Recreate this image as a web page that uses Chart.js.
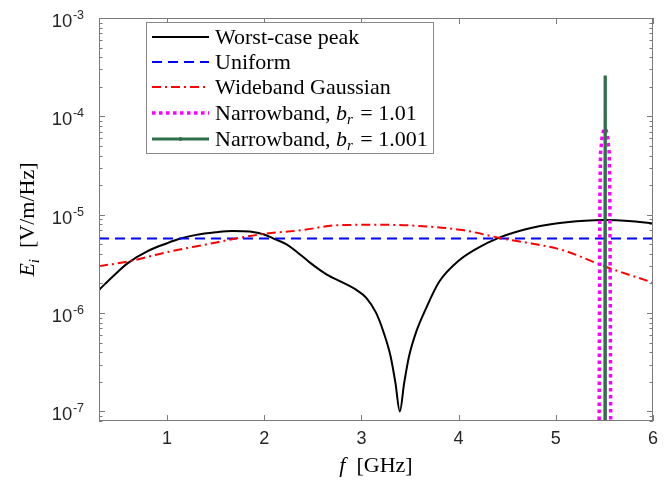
<!DOCTYPE html>
<html>
<head>
<meta charset="utf-8">
<script src="https://cdn.jsdelivr.net/npm/chart.js@4.4.0/dist/chart.umd.min.js"></script>
<style>
    body { margin: 0; background: #fff; }
</style>
</head>
<body>
<canvas id="myChart" width="672" height="487"></canvas>
<script>
// Values (f in GHz, E in V/m/Hz)
const fWorst = [0.3, 0.45, 0.6, 0.8, 1.0, 1.13, 1.3, 1.5, 1.67, 1.85, 2.0, 2.09, 2.23, 2.365, 2.47, 2.64, 2.81, 2.94, 3.05, 3.15, 3.23, 3.3, 3.35, 3.395, 3.44, 3.49, 3.56, 3.66, 3.8, 4.0, 4.2, 4.4, 4.7, 5.0, 5.3, 5.5, 5.75, 6.0];
const eWorst = [1.72e-6, 2.4e-6, 3.24e-6, 4.27e-6, 5.13e-6, 5.69e-6, 6.24e-6, 6.64e-6, 6.85e-6, 6.75e-6, 6.3e-6, 5.75e-6, 5.0e-6, 3.97e-6, 3.26e-6, 2.48e-6, 2.04e-6, 1.74e-6, 1.43e-6, 1.01e-6, 6.3e-7, 3.64e-7, 1.95e-7, 1.0e-7, 1.95e-7, 3.64e-7, 6.3e-7, 1.09e-6, 2.08e-6, 3.4e-6, 4.6e-6, 5.75e-6, 7.15e-6, 8.15e-6, 8.7e-6, 8.82e-6, 8.65e-6, 8.15e-6];

const fUniform = [0.3, 6.0];
const eUniform = [5.73e-6, 5.73e-6];

const fWide = [0.3, 0.6, 1.0, 1.4, 1.71, 2.0, 2.4, 2.72, 3.1, 3.5, 4.04, 4.45, 4.75, 5.07, 5.52, 6.0];
const eWide = [3.0e-6, 3.35e-6, 4.16e-6, 4.98e-6, 5.73e-6, 6.4e-6, 7.0e-6, 7.78e-6, 7.9e-6, 7.78e-6, 6.98e-6, 5.73e-6, 5.1e-6, 4.37e-6, 2.94e-6, 2.04e-6];

const fNarrow1 = [5.445, 5.449, 5.454, 5.46, 5.475, 5.49, 5.505, 5.52, 5.535, 5.55, 5.556, 5.561, 5.565];
const eNarrow1 = [5e-8, 1e-6, 1.5e-5, 4.2e-5, 6e-5, 7.1e-5, 7.6e-5, 7.1e-5, 6e-5, 4.2e-5, 1.5e-5, 1e-6, 5e-8];

const fNarrow2 = [5.503, 5.505, 5.507, 5.509, 5.511];
const eNarrow2 = [5e-8, 2e-6, 2.6e-4, 2e-6, 5e-8];

const xTicks = [1, 2, 3, 4, 5, 6];
const yDecades = [1e-7, 1e-6, 1e-5, 1e-4, 1e-3];
const yExps = [-7, -6, -5, -4, -3];

const legendNames = ['Worst-case peak', 'Uniform', 'Wideband Gaussian', 'Narrowband, ', 'Narrowband, '];
const legendBr = [null, null, null, '1.01', '1.001'];

const axisColor = '#7a7a7a';
const serif = '"Liberation Serif", "DejaVu Serif", serif';
const sans = '"Liberation Sans", Arial, sans-serif';

function pts(xs, ys) {
    return xs.map((v, i) => ({ x: v, y: ys[i] }));
}

const datasets = [
    { label: 'Worst-case peak', data: pts(fWorst, eWorst), borderColor: '#000000', borderWidth: 2, cubicInterpolationMode: 'monotone', order: 5 },
    { label: 'Uniform', data: pts(fUniform, eUniform), borderColor: '#0000ff', borderWidth: 2.2, borderDash: [10, 6], order: 4 },
    { label: 'Wideband Gaussian', data: pts(fWide, eWide), borderColor: '#ff0000', borderWidth: 2, borderDash: [9, 4, 2, 4], cubicInterpolationMode: 'monotone', order: 3 },
    { label: 'Narrowband, b_r = 1.01', data: pts(fNarrow1, eNarrow1), borderColor: '#ff00ff', borderWidth: 3.5, borderDash: [3.5, 3.5], order: 2 },
    { label: 'Narrowband, b_r = 1.001', data: pts(fNarrow2, eNarrow2), borderColor: '#2f6f4c', borderWidth: 3, order: 1 }
];
datasets.forEach(d => { d.pointRadius = 0; d.fill = false; d.clip = 0; });

// ticks, labels, box and legend drawn on top, positioned by the chart scales
const decor = {
    id: 'decor',
    afterDraw(chart) {
        const ctx = chart.ctx;
        const a = chart.chartArea;
        const x = chart.scales.x, y = chart.scales.y;
        ctx.save();

        // axis box
        ctx.strokeStyle = axisColor;
        ctx.lineWidth = 1;
        ctx.strokeRect(Math.round(a.left) + 0.5, Math.round(a.top) + 0.5, Math.round(a.right - a.left) - 1, Math.round(a.bottom - a.top) - 1);

        // x ticks, bottom and top
        ctx.beginPath();
        xTicks.forEach(v => {
            const px = Math.round(x.getPixelForValue(v)) + 0.5;
            ctx.moveTo(px, a.bottom); ctx.lineTo(px, a.bottom - 6);
            ctx.moveTo(px, a.top); ctx.lineTo(px, a.top + 6);
        });
        // y ticks, left and right, major and minor
        const yMin = y.min, yMax = y.max;
        [1e-8].concat(yDecades).forEach(d => {
            for (let k = 1; k <= 9; k++) {
                const v = k * d;
                if (v < yMin * 0.999 || v > yMax * 1.001) continue;
                const len = k === 1 ? 6 : 3.5;
                const py = Math.round(y.getPixelForValue(v)) + 0.5;
                ctx.moveTo(a.left, py); ctx.lineTo(a.left + len, py);
                ctx.moveTo(a.right, py); ctx.lineTo(a.right - len, py);
            }
        });
        ctx.stroke();

        // tick labels
        ctx.fillStyle = '#262626';
        ctx.font = '18px ' + sans;
        ctx.textAlign = 'center';
        ctx.textBaseline = 'alphabetic';
        xTicks.forEach(v => {
            ctx.fillText(String(v), x.getPixelForValue(v), a.bottom + 23);
        });
        yDecades.forEach((d, i) => {
            const py = y.getPixelForValue(d);
            const sup = String(yExps[i]);
            ctx.font = '12.5px ' + sans;
            const wSup = ctx.measureText(sup).width;
            ctx.textAlign = 'left';
            const right = a.left - 15;
            ctx.fillText(sup, right - wSup, py + 1);
            ctx.font = '18.5px ' + sans;
            ctx.textAlign = 'right';
            ctx.fillText('10', right - wSup - 0.5, py + 9);
        });

        // x axis title: f [GHz]
        ctx.fillStyle = '#000';
        ctx.textAlign = 'left';
        const cx = (a.left + a.right) / 2;
        ctx.font = 'italic 22px ' + serif;
        const wf = ctx.measureText('f').width;
        ctx.font = '22px ' + serif;
        const wRest = ctx.measureText('  [GHz]').width;
        let tx = cx - (wf + wRest) / 2;
        ctx.font = 'italic 22px ' + serif;
        ctx.fillText('f', tx, 472);
        ctx.font = '22px ' + serif;
        ctx.fillText('  [GHz]', tx + wf, 472);

        // y axis title: E_i [V/m/Hz]
        ctx.save();
        ctx.translate(34, (a.top + a.bottom) / 2);
        ctx.rotate(-Math.PI / 2);
        ctx.font = 'italic 22px ' + serif;
        const wE = ctx.measureText('E').width;
        ctx.font = 'italic 15px ' + serif;
        const wi = ctx.measureText('i').width;
        ctx.font = '22px ' + serif;
        const wU = ctx.measureText('  [V/m/Hz]').width;
        tx = -(wE + wi + wU) / 2;
        ctx.font = 'italic 22px ' + serif;
        ctx.fillText('E', tx, 0);
        ctx.font = 'italic 15px ' + serif;
        ctx.fillText('i', tx + wE, 5);
        ctx.font = '22px ' + serif;
        ctx.fillText('  [V/m/Hz]', tx + wE + wi, 0);
        ctx.restore();

        // legend
        const lx = 146, ly = 22, lw = 288, lh = 132;
        ctx.fillStyle = '#fff';
        ctx.fillRect(lx, ly, lw, lh);
        ctx.strokeStyle = '#888';
        ctx.lineWidth = 1;
        ctx.strokeRect(lx + 0.5, ly + 0.5, lw - 1, lh - 1);
        const rowY = [37, 62, 87, 113, 139];
        datasets.forEach((ds, i) => {
            const ry = rowY[i];
            ctx.save();
            ctx.strokeStyle = ds.borderColor;
            ctx.lineWidth = ds.borderWidth;
            ctx.setLineDash(ds.borderDash || []);
            ctx.beginPath();
            ctx.moveTo(152, ry); ctx.lineTo(209, ry);
            ctx.stroke();
            if (i === 4) {
                ctx.fillStyle = ds.borderColor;
                ctx.beginPath();
                ctx.arc(180.5, ry, 2, 0, Math.PI * 2);
                ctx.fill();
            }
            ctx.restore();
            ctx.fillStyle = '#000';
            ctx.textAlign = 'left';
            ctx.font = '22px ' + serif;
            let px = 215;
            ctx.fillText(legendNames[i], px, ry + 7);
            if (legendBr[i]) {
                px += ctx.measureText(legendNames[i]).width;
                ctx.font = 'italic 22px ' + serif;
                ctx.fillText('b', px, ry + 7);
                px += ctx.measureText('b').width;
                ctx.font = 'italic 15px ' + serif;
                ctx.fillText('r', px, ry + 11);
                px += ctx.measureText('r').width;
                ctx.font = '22px ' + serif;
                ctx.fillText(' = ' + legendBr[i], px + 2, ry + 7);
            }
        });
        ctx.restore();
    }
};

const config = {
    type: 'line',
    data: { datasets: datasets },
    options: {
        responsive: false,
        animation: false,
        layout: { padding: { left: 99, right: 19, top: 18, bottom: 66 } },
        plugins: { legend: { display: false }, tooltip: { enabled: false } },
        scales: {
            x: { type: 'linear', min: 0.3, max: 6, display: false },
            y: { type: 'logarithmic', min: 8e-8, max: 1e-3, display: false }
        }
    },
    plugins: [decor]
};

const myChart = new Chart(document.getElementById('myChart'), config);
</script>
</body>
</html>
